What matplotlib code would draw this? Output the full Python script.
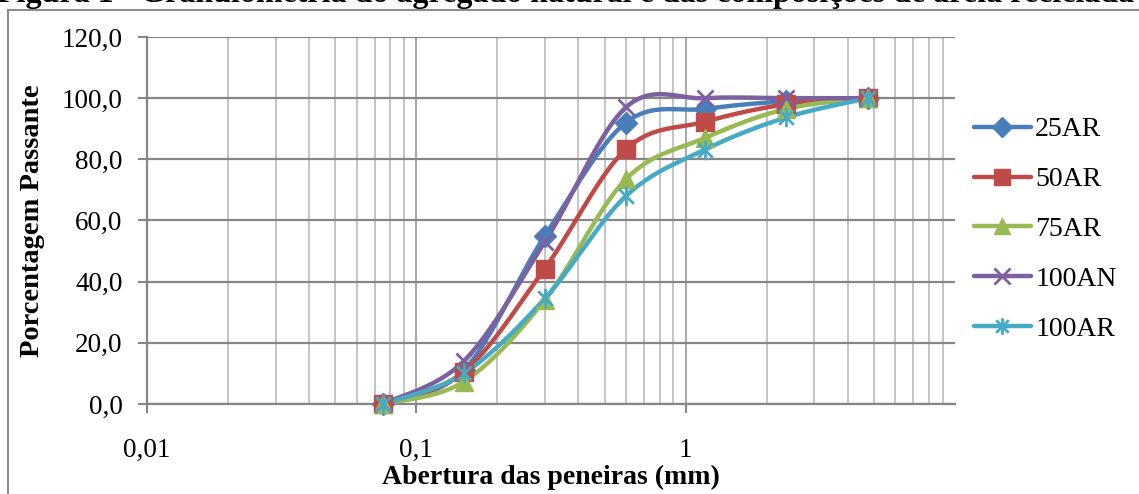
import numpy as np
import matplotlib
matplotlib.use("Agg")
import matplotlib.pyplot as plt
from matplotlib.patches import Rectangle
from matplotlib.lines import Line2D
from matplotlib.path import Path

plt.rcParams['font.family'] = ['Liberation Serif', 'DejaVu Serif']

sieves = [0.075, 0.15, 0.3, 0.6, 1.18, 2.36, 4.75]
s25AR = [0.0, 11.0, 55.0, 92.0, 96.5, 99.0, 100.0]
s50AR = [0.0, 10.5, 44.3, 83.3, 92.3, 98.0, 100.0]
s75AR = [0.0, 7.3, 34.0, 73.5, 87.0, 96.5, 100.0]
s100AN = [0.0, 14.0, 53.0, 97.0, 100.0, 100.0, 100.0]
s100AR = [0.0, 10.0, 34.5, 68.0, 83.2, 93.7, 100.0]
labels = ['25AR', '50AR', '75AR', '100AN', '100AR']
colors = ['#4A7EBB', '#BE4B48', '#98B954', '#7D60A0', '#46AAC5']
yticks = [0, 20, 40, 60, 80, 100, 120]
ytick_labels = ['0,0', '20,0', '40,0', '60,0', '80,0', '100,0', '120,0']
xticks = [0.01, 0.1, 1]
xtick_labels = ['0,01', '0,1', '1']
title = 'Figura 1 - Granulometria do agregado natural e das composições de areia reciclada'

star = Path([(0, -1), (0, 1), (-0.75, -0.75), (0.75, 0.75), (-0.75, 0.75), (0.75, -0.75)],
            [Path.MOVETO, Path.LINETO, Path.MOVETO, Path.LINETO, Path.MOVETO, Path.LINETO])
markers = ['D', 's', '^', 'x', star]

W, H = 1139, 494
fig = plt.figure(figsize=(W / 100, H / 100), dpi=100)
ax = fig.add_axes([147 / W, 1 - 404 / H, (955 - 147) / W, (404 - 37) / H])
ax.set_xscale('log')
ax.set_xlim(0.01, 10)
ax.set_ylim(0, 120)

# chart border
fig.patches.append(Rectangle((8 / W, -0.1), 1.2, 1 - 10 / H + 0.1, transform=fig.transFigure,
                             fill=False, edgecolor='#8C8C8C', linewidth=1.5))
fig.text(-3 / W, 1 - 2 / H, title, fontsize=23, fontweight='bold', ha='left', va='baseline')

# grid
ax.set_yticks(yticks)
ax.set_yticklabels(ytick_labels)
ax.set_xticks(xticks)
ax.set_xticklabels(xtick_labels)
minor = [m * 10.0 ** e for e in (-2, -1, 0) for m in range(2, 10)]
ax.set_xticks(minor, minor=True)
ax.xaxis.set_minor_formatter(matplotlib.ticker.NullFormatter())
ax.grid(True, which='major', axis='y', color='#868686', linewidth=1.6)
ax.grid(True, which='major', axis='x', color='#A6A6A6', linewidth=1.4)
ax.grid(True, which='minor', axis='x', color='#BFBFBF', linewidth=1.3)
ax.set_axisbelow(True)
for sp in ['top', 'right']:
    ax.spines[sp].set_visible(False)
for sp in ['left', 'bottom']:
    ax.spines[sp].set_color('#868686')
    ax.spines[sp].set_linewidth(1.6)
ax.tick_params(axis='both', which='major', direction='out', length=6.5, width=1.5,
               color='#868686', labelsize=19.5)
ax.tick_params(axis='y', which='major', pad=11)
ax.tick_params(axis='x', which='major', pad=18)
ax.tick_params(axis='x', which='minor', length=0)
ax.set_xlabel('Abertura das peneiras (mm)', fontsize=20, fontweight='bold', labelpad=1)
ax.set_ylabel('Porcentagem Passante', fontsize=20.5, fontweight='bold', labelpad=12)

fig.canvas.draw()


def smooth(xs, ys, n=40):
    pts = ax.transData.transform(np.column_stack([xs, ys]))
    P = np.vstack([pts[0], pts, pts[-1]])
    out = []
    for i in range(1, len(P) - 2):
        p0, p1, p2, p3 = P[i - 1], P[i], P[i + 1], P[i + 2]
        c1 = p1 + (p2 - p0) / 6.0
        c2 = p2 - (p3 - p1) / 6.0
        t = np.linspace(0, 1, n)[:, None]
        seg = (1 - t) ** 3 * p1 + 3 * (1 - t) ** 2 * t * c1 + 3 * (1 - t) * t ** 2 * c2 + t ** 3 * p2
        out.append(seg if i == 1 else seg[1:])
    out = np.vstack(out)
    d = ax.transData.inverted().transform(out)
    return d[:, 0], d[:, 1]


series = [s25AR, s50AR, s75AR, s100AN, s100AR]
msizes = [11, 13, 13, 12, 14]
lmsizes = [10, 11, 11, 11, 12]
mews = [1, 1, 1, 2, 2]
handles = []
for ys, lab, c, mk, ms, lms, mw in zip(series, labels, colors, markers, msizes, lmsizes, mews):
    sx, sy = smooth(sieves, ys)
    ax.plot(sx, sy, color=c, linewidth=3.2, solid_capstyle='round', zorder=3, clip_on=False)
    ax.plot(sieves, ys, linestyle='none', marker=mk, markersize=ms, color=c,
            markeredgecolor=c, markeredgewidth=mw, zorder=4, clip_on=False)
    handles.append(Line2D([], [], color=c, linewidth=3.2, marker=mk, markersize=lms,
                          markeredgewidth=mw, markeredgecolor=c, solid_capstyle='round'))

leg = fig.legend(handles, labels, loc='upper left', bbox_to_anchor=(974 / W, 1 - 117 / H),
                 frameon=False, fontsize=20, handlelength=2.05, handletextpad=0.15,
                 labelspacing=0.88, borderaxespad=0, borderpad=0)

fig.savefig('out.png', dpi=100)
